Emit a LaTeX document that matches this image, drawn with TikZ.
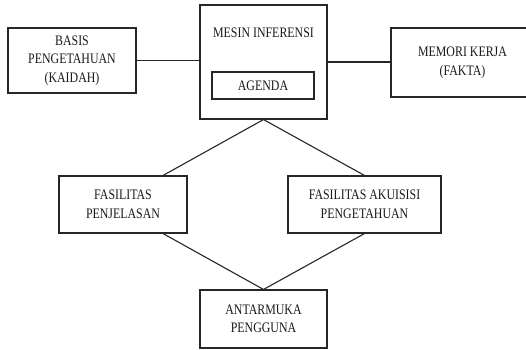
\documentclass[tikz,border=0pt]{standalone}
\usepackage{fontspec}
\setmainfont{Liberation Serif}[FakeStretch=0.82]
\usetikzlibrary{calc}
\begin{document}
\begin{tikzpicture}[x=1pt,y=-1pt,
  box/.style={draw=black!85,line width=1.1pt,rectangle,inner sep=0pt,align=center,
    font=\fontsize{14.5}{18.5}\selectfont,text=black!90},
  link/.style={draw=black!85,line width=1.1pt}]
\useasboundingbox (0,0) rectangle (526,349);
\node[box,minimum width=128pt,minimum height=65pt] (basis) at (72,60.5) {BASIS\\PENGETAHUAN\\(KAIDAH)};
\node[box,minimum width=127pt,minimum height=114pt] (mesin) at (263.5,62) {};
\node[font=\fontsize{14.5}{18.5}\selectfont,text=black!90] (mesintxt) at (263.5,33) {MESIN INFERENSI};
\node[box,minimum width=102pt,minimum height=27pt] (agenda) at (263,85.5) {AGENDA};
\node[box,minimum width=143pt,minimum height=69pt] (memori) at (462.5,62.5) {MEMORI KERJA\\(FAKTA)};
\node[box,minimum width=128pt,minimum height=57pt] (pen) at (123,204.5) {FASILITAS\\PENJELASAN};
\node[box,minimum width=153pt,minimum height=57pt] (aku) at (364.5,204.5) {FASILITAS AKUISISI\\PENGETAHUAN};
\node[box,minimum width=127pt,minimum height=58pt] (ant) at (263.5,319) {ANTARMUKA\\PENGGUNA};
\draw[link] (basis.east) -- (basis.east -| mesin.west);
\draw[link] (mesin.east) -- (mesin.east -| memori.west);
\draw[link] ($(pen.north west)!0.81!(pen.north east)$) -- (mesin.south) -- (aku.north);
\draw[link] ($(pen.south west)!0.81!(pen.south east)$) -- (ant.north) -- (aku.south);
\end{tikzpicture}
\end{document}
